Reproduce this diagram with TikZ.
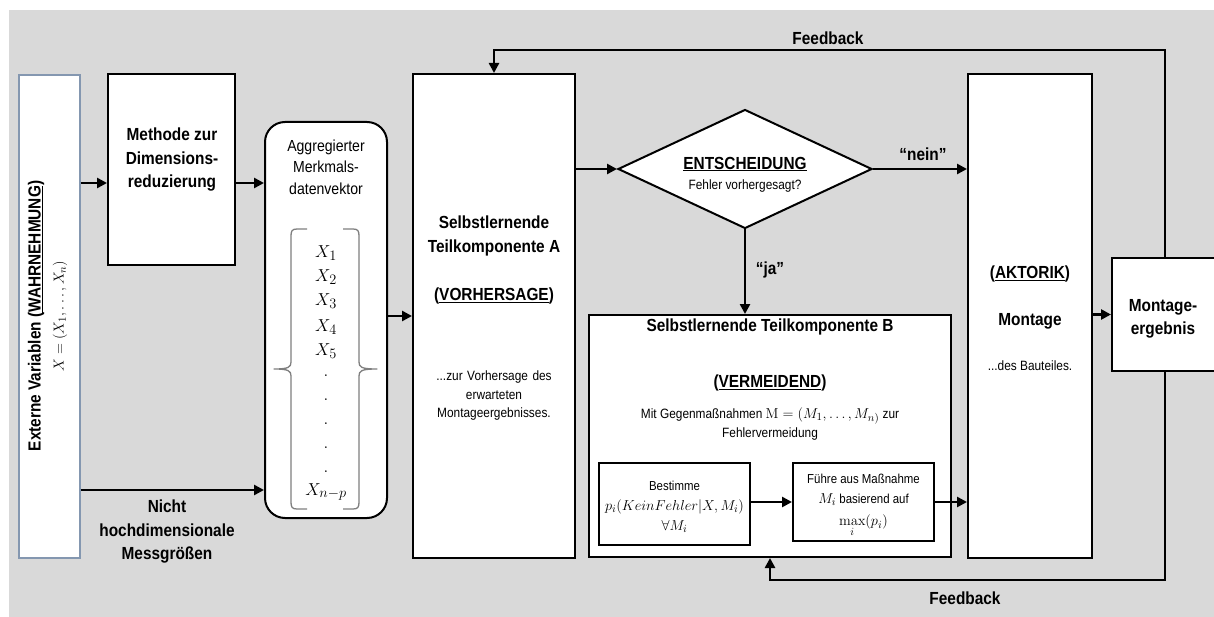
\documentclass[tikz,border=0pt]{standalone}
\usepackage[no-math]{fontspec}
\setmainfont{Liberation Sans}[FakeStretch=0.88]
\usetikzlibrary{arrows.meta,shapes.geometric}

\definecolor{bggray}{HTML}{D9D9D9}
\definecolor{extframe}{HTML}{8497B0}
\definecolor{bracegray}{HTML}{7F7F7F}

\tikzset{
  box/.style={draw=black, line width=2pt, fill=white, inner sep=0pt},
  flow/.style={line width=2.8pt, -{Triangle[length=10pt,width=10pt]}},
  head/.style={font=\fontsize{17.5}{23.5}\selectfont\bfseries, align=center, inner sep=0pt},
  mid/.style={font=\fontsize{16}{21.5}\selectfont, align=center, inner sep=0pt},
  small/.style={font=\fontsize{13.5}{19}\selectfont, align=center, inner sep=0pt},
  tiny/.style={font=\fontsize{13}{20}\selectfont, align=center, inner sep=0pt},
  vec/.style={font=\fontsize{19}{22}\selectfont, inner sep=0pt},
  brace/.style={draw=bracegray, line width=1.3pt, line join=round}
}
% slightly larger formulas inside the smaller text lines
\newcommand{\fm}[1]{{\fontsize{15.5}{19}\selectfont$#1$}}

\begin{document}
\begin{tikzpicture}[x=1pt,y=-1pt]
  \useasboundingbox (0,0) rectangle (1214,617);
  \clip (0,0) rectangle (1214,617);
  \fill[bggray] (9,10) rectangle (1214,617);

  % helper rows for the horizontal connectors
  \coordinate (rowtop) at (0,183);
  \coordinate (rowlow) at (0,490);
  \coordinate (rowmid) at (0,316);

  % perception column
  \node[box, draw=extframe, line width=1.3pt, minimum width=61pt, minimum height=483pt] (ext) at (49.5,316.5) {};
  \node[head, rotate=90] (extT) at (36,316) {Externe Variablen (\underline{WAHRNEHMUNG})};
  \node[inner sep=0pt, rotate=90, font=\fontsize{15}{17}\selectfont] (extM) at (60,316) {$X=(X_1,\dots,X_n)$};

  % dimension reduction
  \node[box, minimum width=127pt, minimum height=191pt] (meth) at (171.5,169.5) {};
  \node[head] (methT) at (172,160) {Methode zur\\Dimensions-\\reduzierung};

  % aggregated feature vector
  \node[box, rounded corners=20pt, minimum width=122pt, minimum height=396pt] (agg) at (326,320) {};
  \node[mid] (aggT) at (326,167) {Aggregierter\\Merkmals-\\datenvektor};
  \foreach \i/\y in {1/253,2/277,3/301,4/327,5/351}
    \node[vec] (v\i) at (326,\y) {$X_\i$};
  \foreach \i/\y in {1/376,2/400,3/424,4/448,5/472}
    \node[vec] (d\i) at (326,\y) {$.$};
  \node[vec] (vn) at (326,492) {$X_{n-p}$};
  \draw[brace] (307,229) -- (297,229) .. controls (292,229) and (291,231) .. (291,236)
    -- (291,362) .. controls (291,367) and (289,369) .. (274,369)
    .. controls (289,369) and (291,371) .. (291,376)
    -- (291,502) .. controls (291,507) and (292,509) .. (297,509) -- (307,509);
  \draw[brace] (343,229) -- (353,229) .. controls (358,229) and (359,231) .. (359,236)
    -- (359,362) .. controls (359,367) and (361,369) .. (377,369)
    .. controls (361,369) and (359,371) .. (359,376)
    -- (359,502) .. controls (359,507) and (358,509) .. (353,509) -- (343,509);

  % self-learning component A
  \node[box, minimum width=162pt, minimum height=484pt] (compA) at (494,316) {};
  \node[head] (compAT) at (494,236) {Selbstlernende\\Teilkomponente A};
  \node[head] (compAS) at (494,296) {(\underline{VORHERSAGE})};
  \node[small, text width=150pt, font=\fontsize{13.5}{18.5}\selectfont] (compAD) at (494,396) {...zur Vorhersage des\\erwarteten\\Montageergebnisses.};

  % decision
  \node[draw=black, line width=2pt, fill=white, shape=diamond, inner sep=0pt,
        minimum width=254pt, minimum height=119pt] (dec) at (745,169) {};
  \node[head] (decT) at (745,164) {\underline{ENTSCHEIDUNG}};
  \node[small] (decS) at (745,186) {Fehler vorhergesagt?};

  % self-learning component B
  \node[box, minimum width=362pt, minimum height=242pt] (compB) at (770,436) {};
  \node[head] (compBT) at (770,327) {Selbstlernende Teilkomponente B};
  \node[head] (compBS) at (770,383) {(\underline{VERMEIDEND})};
  \node[small] (compBD) at (770,423.5) {Mit Gegenmaßnahmen \fm{\mathrm{M}=(M_1,\dots,M_{n)}} zur\\Fehlervermeidung};
  \node[box, minimum width=151pt, minimum height=82pt] (b1) at (674.5,504) {};
  \node[tiny] (b1T) at (674.5,507) {Bestimme\\\fm{p_i(KeinFehler|X,M_i)}\\\fm{\forall M_i}};
  \node[box, minimum width=141pt, minimum height=78pt] (b2) at (863.5,502) {};
  \node[tiny, font=\fontsize{13}{19.5}\selectfont] (b2T) at (863.5,490) {Führe aus Maßnahme\\\fm{M_i} basierend auf};
  \node[inner sep=0pt] (b2M) at (863.5,526) {\fm{\max\limits_{\rule{0pt}{8.5pt}i}(p_i)}};

  % actuation
  \node[box, minimum width=124pt, minimum height=484pt] (akt) at (1030,316) {};
  \node[head] (aktT) at (1030,274) {(\underline{AKTORIK})};
  \node[head] (aktM) at (1030,321) {Montage};
  \node[small] (aktD) at (1030,366) {...des Bauteiles.};

  % assembly result
  \node[box, minimum width=106pt, minimum height=113pt] (res) at (1165,314.5) {};
  \node[head] (resT) at (1163,319) {Montage-\\ergebnis};

  % connectors
  \draw[flow] (ext.east |- rowtop) -- (meth.west |- rowtop);
  \draw[flow] (meth.east |- rowtop) -- (agg.west |- rowtop);
  \draw[flow] (ext.east |- rowlow) -- (agg.west |- rowlow);
  \draw[flow] (agg.east |- rowmid) -- (compA.west |- rowmid);
  \draw[flow] (compA.east |- dec.west) -- (dec.west);
  \draw[flow] (dec.east) -- (akt.west |- dec.east);
  \draw[flow] (dec.south) -- (dec.south |- compB.north);
  \draw[flow] (b1.east |- b2.west) -- (b2.west);
  \draw[flow] (b2.east) -- (akt.west |- b2.east);
  \draw[flow] (akt.east |- res.west) -- (res.west);
  \draw[flow] (res.north) -- ++(0,-207) coordinate (fbT) -| (compA.north);
  \draw[flow] (res.south) -- ++(0,208) coordinate (fbB) -| (compB.south);

  % connector labels
  \node[head] (nein) at (923,154) {“nein”};
  \node[head] (ja) at (770,270) {“ja”};
  \node[head] (fbTop) at (828,38) {Feedback};
  \node[head] (fbBot) at (965,598) {Feedback};
  \node[head] (nicht) at (167,532) {Nicht\\hochdimensionale\\Messgrößen};
\end{tikzpicture}
\end{document}
